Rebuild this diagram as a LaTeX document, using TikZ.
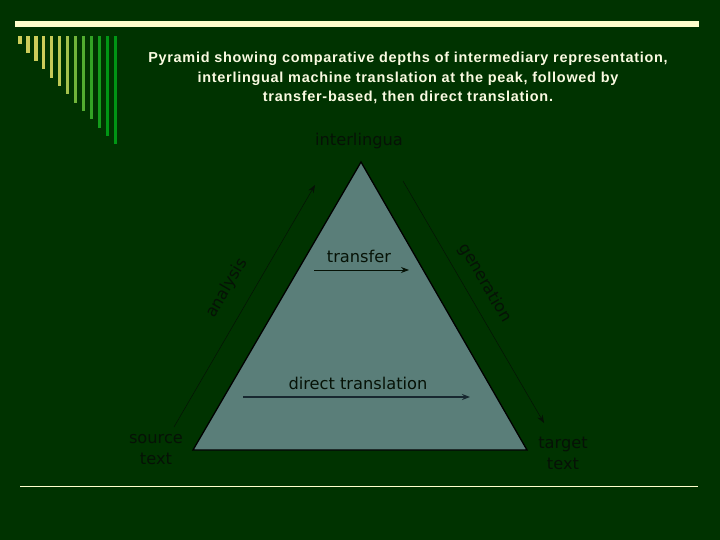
\documentclass[tikz,border=0pt]{standalone}
\usepackage{fontspec}
\setmainfont{DejaVu Sans}
\newfontfamily\titlefont[LetterSpace=5.0]{Liberation Sans}
\usetikzlibrary{arrows.meta}

\definecolor{slidebg}{RGB}{0,51,0}
\definecolor{cream}{RGB}{255,255,204}
\definecolor{titletext}{RGB}{250,250,225}
\definecolor{pyramidfill}{RGB}{90,126,121}
\definecolor{labeltext}{RGB}{6,18,6}
\definecolor{barpale}{RGB}{204,204,90}
\definecolor{bargreen}{RGB}{0,150,20}
\definecolor{directarrow}{RGB}{24,40,48}

\tikzset{
    label/.style={text=labeltext, font=\fontsize{16.3}{20}\selectfont, inner sep=0pt},
    corner/.style={label, align=center, font=\fontsize{16.3}{21}\selectfont},
    flow/.style={-{Stealth[length=8pt, width=6pt]}, line width=0.6pt, draw=labeltext},
}

\begin{document}
\begin{tikzpicture}[x=1bp, y=-1bp]
    \useasboundingbox (0,0) rectangle (720,540);
    \fill[slidebg] (0,0) rectangle (720,540);
    % Slide decoration: top rule, the bars and the bottom rule.
        \fill[cream] (15,21) rectangle (699,27);
        \foreach \i/\p in {0/0,1/0,2/0,3/0,4/3,5/8,6/20,7/45,8/60,9/75,10/90,11/100,12/100}
            \fill[bargreen!\p!barpale] (18.4+7.93*\i,36) rectangle (21.7+7.93*\i,44.3+8.35*\i);
        \draw[cream, line width=1bp] (20,486) -- (698,486);
    % The title.
        \node[text=titletext, align=center, font=\titlefont\bfseries\fontsize{14.5}{19.4}\selectfont]
            (title) at (408,78) {Pyramid showing comparative depths of intermediary representation,\\
            interlingual machine translation at the peak, followed by\\
            transfer-based, then direct translation.};
    % The pyramid.
        \coordinate (apex) at (361,162);
        \coordinate (left) at (193,450);
        \coordinate (right) at (527,450);
        \filldraw[fill=pyramidfill, draw=black, line width=1.3pt, line join=miter] (apex) -- (left) -- (right) -- cycle;
    % Below nodes are the labels.
        \node[label] (interlingua) at (359,141) {interlingua};
        \node[label] (transfer) at (359,256) {transfer};
        \node[label] (direct) at (358,383) {direct translation};
        \node[corner] (source) at (156,450) {source\\text};
        \node[corner] (target) at (563,453) {target\\text};
        \node[label, rotate=59.8] (analysis) at (227,288) {analysis};
        \node[label, rotate=-59.8] (generation) at (485,283) {generation};
    % The arrows.
        \coordinate (analysisfrom) at (174,427);
        \coordinate (analysisto) at (315,185);
        \coordinate (generationfrom) at (403,181);
        \coordinate (generationto) at (544,423);
        \coordinate (transferfrom) at (314,270);
        \coordinate (transferto) at (409,270);
        \coordinate (directfrom) at (243,397);
        \coordinate (directto) at (470,397);
        \draw[flow, line width=0.5pt] (analysisfrom) -- (analysisto);
        \draw[flow, line width=0.5pt] (generationfrom) -- (generationto);
        \draw[flow, line width=1pt] (transferfrom) -- (transferto);
        \draw[flow, line width=1.4pt, draw=directarrow, fill=directarrow] (directfrom) -- (directto);
\end{tikzpicture}
\end{document}
